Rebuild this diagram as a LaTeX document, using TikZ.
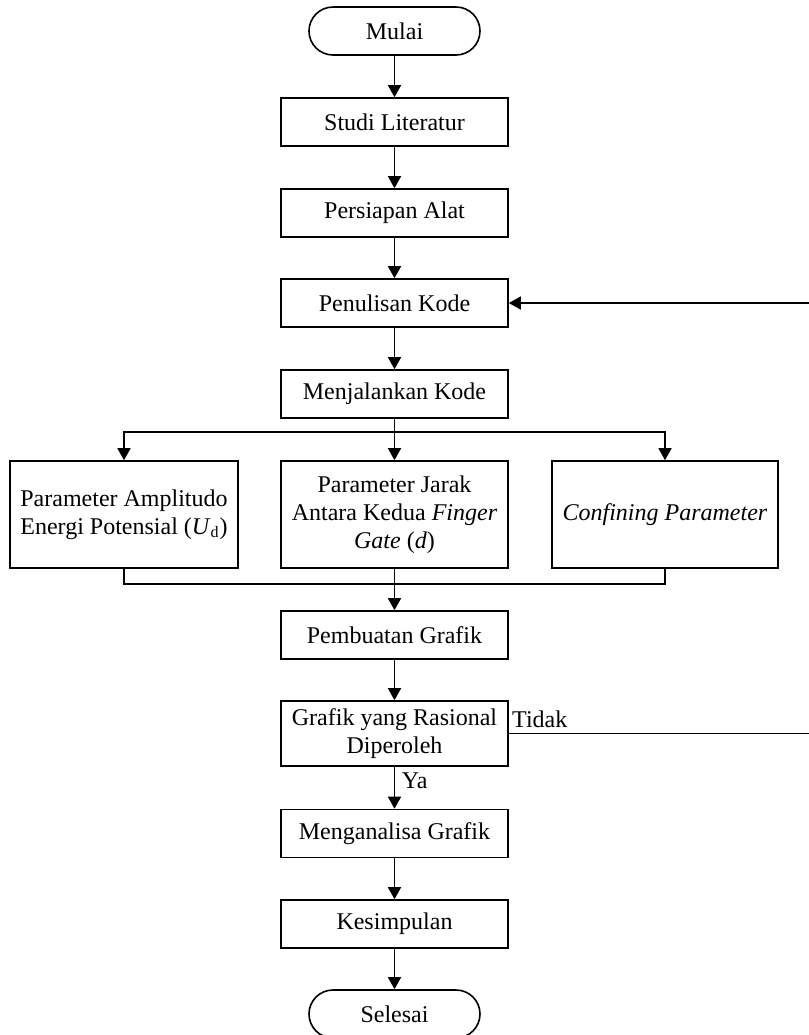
\documentclass[tikz,border=0pt]{standalone}
\usepackage{fontspec}
\setmainfont{Liberation Serif}
\usetikzlibrary{arrows.meta}
\tikzset{
        box/.style={draw, line width=0.8pt, minimum width=113.5pt, minimum height=24pt, inner sep=0pt, align=center, font=\fontsize{12}{14}\selectfont},
        terminal/.style={box, minimum width=85.5pt, rounded corners=12pt},
        parbox/.style={box, minimum height=53.5pt},
        arr/.style={-{Triangle[length=6pt,width=6.5pt]}, line width=0.8pt},
        garis/.style={line width=0.8pt}
}
\begin{document}
\begin{tikzpicture}[x=0.5pt, y=-0.5pt]
        \useasboundingbox (0,0) rectangle (809,1035);
        % alur utama
        \node[terminal] (mulai) at (394.5,31) {Mulai};
        \node[box] (studi) at (394.5,122) {Studi Literatur};
        \node[box] (persiapan) at (394.5,213) {Persiapan Alat};
        \node[box] (penulisan) at (394.5,303) {Penulisan Kode};
        \node[box] (menjalankan) at (394.5,394) {Menjalankan Kode};
        % tiga parameter
        \node[parbox, minimum width=114pt] (paramU) at (124,514.5) {Parameter Amplitudo\\Energi Potensial (\textit{U}\textsubscript{d})};
        \node[parbox] (paramD) at (394.5,514.5) {Parameter Jarak\\Antara Kedua \textit{Finger}\\\textit{Gate} (\textit{d})};
        \node[parbox, minimum width=113pt] (confining) at (665,514.5) {\textit{Confining Parameter}};
        \node[box] (pembuatan) at (394.5,635) {Pembuatan Grafik};
        \node[box, minimum height=32.5pt] (rasional) at (394.5,733.5) {Grafik yang Rasional\\Diperoleh};
        \node[box] (analisa) at (394.5,833.5) {Menganalisa Grafik};
        \node[box] (kesimpulan) at (394.5,924) {Kesimpulan};
        \node[terminal] (selesai) at (394.5,1014) {Selesai};
        \coordinate (cabang) at (394.5,432);
        \coordinate (gabung) at (394.5,584);
        \coordinate (balik) at (840,733.5);
        \draw[arr] (mulai) -- (studi);
        \draw[arr] (studi) -- (persiapan);
        \draw[arr] (persiapan) -- (penulisan);
        \draw[arr] (penulisan) -- (menjalankan);
        \draw[arr] (menjalankan) -- (paramD);
        \draw[arr] (cabang) -| (paramU.north);
        \draw[arr] (cabang) -| (confining.north);
        \draw[garis] (paramU.south) |- (gabung);
        \draw[garis] (confining.south) |- (gabung);
        \draw[arr] (paramD) -- (pembuatan);
        \draw[arr] (pembuatan) -- (rasional);
        \draw[arr] (rasional) -- (analisa);
        \draw[arr] (analisa) -- (kesimpulan);
        \draw[arr] (kesimpulan) -- (selesai);
        % umpan balik
        \draw[arr] (rasional.east) -- (balik) |- (penulisan.east);
        \node[anchor=base west, inner sep=0pt, font=\fontsize{12}{14}\selectfont] (tidak) at ([xshift=1.5pt, yshift=3pt]rasional.east) {Tidak};
        \node[anchor=base west, inner sep=0pt, font=\fontsize{12}{14}\selectfont] (ya) at ([xshift=3.5pt, yshift=-11pt]rasional.south) {Ya};
\end{tikzpicture}
\end{document}
